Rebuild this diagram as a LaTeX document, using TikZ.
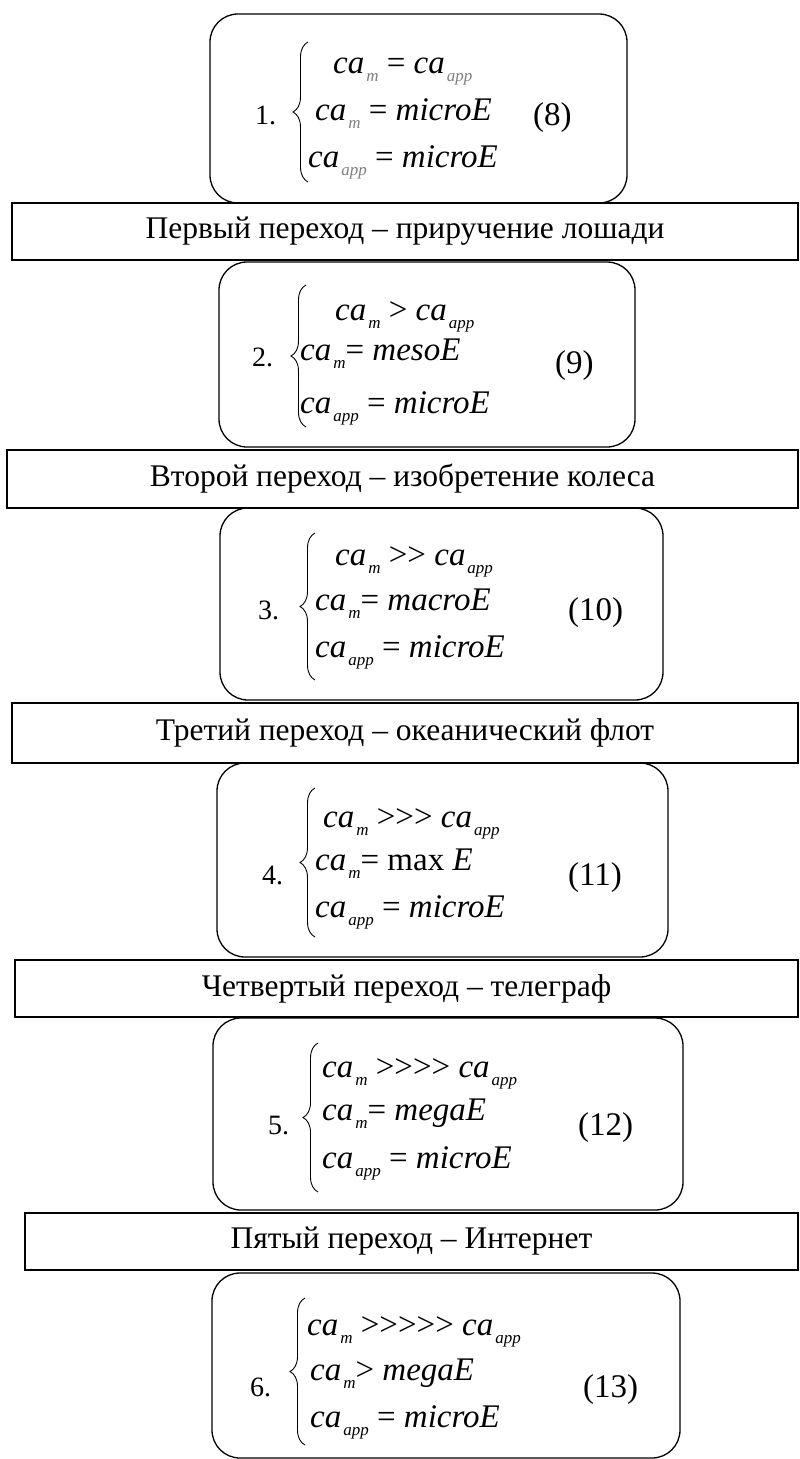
\documentclass[tikz,border=0pt]{standalone}
\usepackage{fontspec}
\setmainfont{Liberation Serif}
\usetikzlibrary{decorations.pathreplacing}
\newcommand\mysub[1]{\kern2pt\raisebox{-8pt}{\fontsize{17}{17}\selectfont\textit{#1}}}
\newcommand\cam{\textit{ca}\mysub{m}}
\newcommand\caa{\textit{ca}\mysub{app}}
\newcommand\gcam{\textit{ca}\textcolor{gray}{\mysub{m}}}
\newcommand\gcaa{\textit{ca}\textcolor{gray}{\mysub{app}}}
\newcommand\grt{>\kern0pt}
\tikzset{
 rbox/.style={draw, line width=1.3pt, rounded corners=28pt, inner sep=0pt},
 banner/.style={draw, line width=1.5pt, inner sep=0pt, font=\fontsize{31.5}{31.5}\selectfont},
 eqrow/.style={anchor=base west, inner sep=0pt, font=\fontsize{33}{33}\selectfont},
 numlab/.style={anchor=base west, inner sep=0pt, font=\fontsize{28}{28}\selectfont},
 tagl/.style={anchor=base west, inner sep=0pt, font=\fontsize{33}{33}\selectfont},
 brc/.style={decorate, decoration={brace, amplitude=15pt}, line width=0.9pt}
}
\begin{document}
\begin{tikzpicture}[x=1pt,y=-1pt]
\useasboundingbox (0,0) rectangle (800,1459);
\fill[white] (0,0) rectangle (800,1459);
% boxes
\node[rbox, minimum width=417pt, minimum height=189pt] (b1) at (418.5,108.5) {};
\node[rbox, minimum width=416pt, minimum height=185pt] (b2) at (427,354.5) {};
\node[rbox, minimum width=443pt, minimum height=192pt] (b3) at (441.5,604) {};
\node[rbox, minimum width=451pt, minimum height=194pt] (b4) at (442.5,860) {};
\node[rbox, minimum width=470pt, minimum height=192pt] (b5) at (448,1114) {};
\node[rbox, minimum width=468pt, minimum height=185pt] (b6) at (446,1365.5) {};
% banners
\node[banner, fill=white, minimum width=786pt, minimum height=57pt] (t1) at (405,231.5) {Первый переход – приручение лошади};
\node[banner, fill=white, minimum width=791pt, minimum height=58pt] (t2) at (402.5,479) {Второй переход – изобретение колеса};
\node[banner, fill=white, minimum width=786pt, minimum height=60pt] (t3) at (405,733) {Третий переход – океанический флот};
\node[banner, fill=white, minimum width=783pt, minimum height=57pt] (t4) at (406.5,988.5) {Четвертый переход – телеграф};
\node[banner, fill=white, minimum width=773pt, minimum height=57pt] (t5) at (411.5,1241.5) {Пятый переход – Интернет};
% box 1
\node[numlab] (n1) at (255,124) {1.};
\node[tagl] (g1) at (533,125) {(8)};
\node[eqrow] (r11) at (333,73) {\gcam{} = \gcaa};
\node[eqrow] (r12) at (315,120) {\gcam{} = \textit{microE}};
\node[eqrow] (r13) at (308,167) {\gcaa{} = \textit{microE}};
\draw[brc] (308,182) -- (308,42);
% box 2
\node[numlab] (n2) at (252,366) {2.};
\node[tagl] (g2) at (555,373) {(9)};
\node[eqrow] (r21) at (335,320) {\cam{} \grt{} \caa};
\node[eqrow] (r22) at (300,360) {\cam= \textit{mesoE}};
\node[eqrow] (r23) at (300,413) {\caa{} = \textit{microE}};
\draw[brc] (306,427) -- (306,285);
% box 3
\node[numlab] (n3) at (258,619) {3.};
\node[tagl] (g3) at (568,620) {(10)};
\node[eqrow] (r31) at (335,565) {\cam{} \grt\grt{} \caa};
\node[eqrow] (r32) at (315,610) {\cam= \textit{macroE}};
\node[eqrow] (r33) at (315,657) {\caa{} = \textit{microE}};
\draw[brc] (315,680) -- (315,533);
% box 4
\node[numlab] (n4) at (262,884) {4.};
\node[tagl] (g4) at (568,885) {(11)};
\node[eqrow] (r41) at (323,827) {\cam{} \grt\grt\grt{} \caa};
\node[eqrow] (r42) at (315,870) {\cam= max \textit{E}};
\node[eqrow] (r43) at (315,917) {\caa{} = \textit{microE}};
\draw[brc] (315,937) -- (315,788);
% box 5
\node[numlab] (n5) at (268,1134) {5.};
\node[tagl] (g5) at (578,1135) {(12)};
\node[eqrow] (r51) at (322,1077) {\cam{} \grt\grt\grt\grt{} \caa};
\node[eqrow] (r52) at (322,1120) {\cam= \textit{megaE}};
\node[eqrow] (r53) at (322,1168) {\caa{} = \textit{microE}};
\draw[brc] (318,1192) -- (318,1043);
% box 6
\node[numlab] (n6) at (250,1396) {6.};
\node[tagl] (g6) at (583,1397) {(13)};
\node[eqrow] (r61) at (307,1335) {\cam{} \grt\grt\grt\grt\grt{} \caa};
\node[eqrow] (r62) at (310,1380) {\cam\grt{} \textit{megaE}};
\node[eqrow] (r63) at (310,1427) {\caa{} = \textit{microE}};
\draw[brc] (305,1445) -- (305,1298);
\end{tikzpicture}
\end{document}
